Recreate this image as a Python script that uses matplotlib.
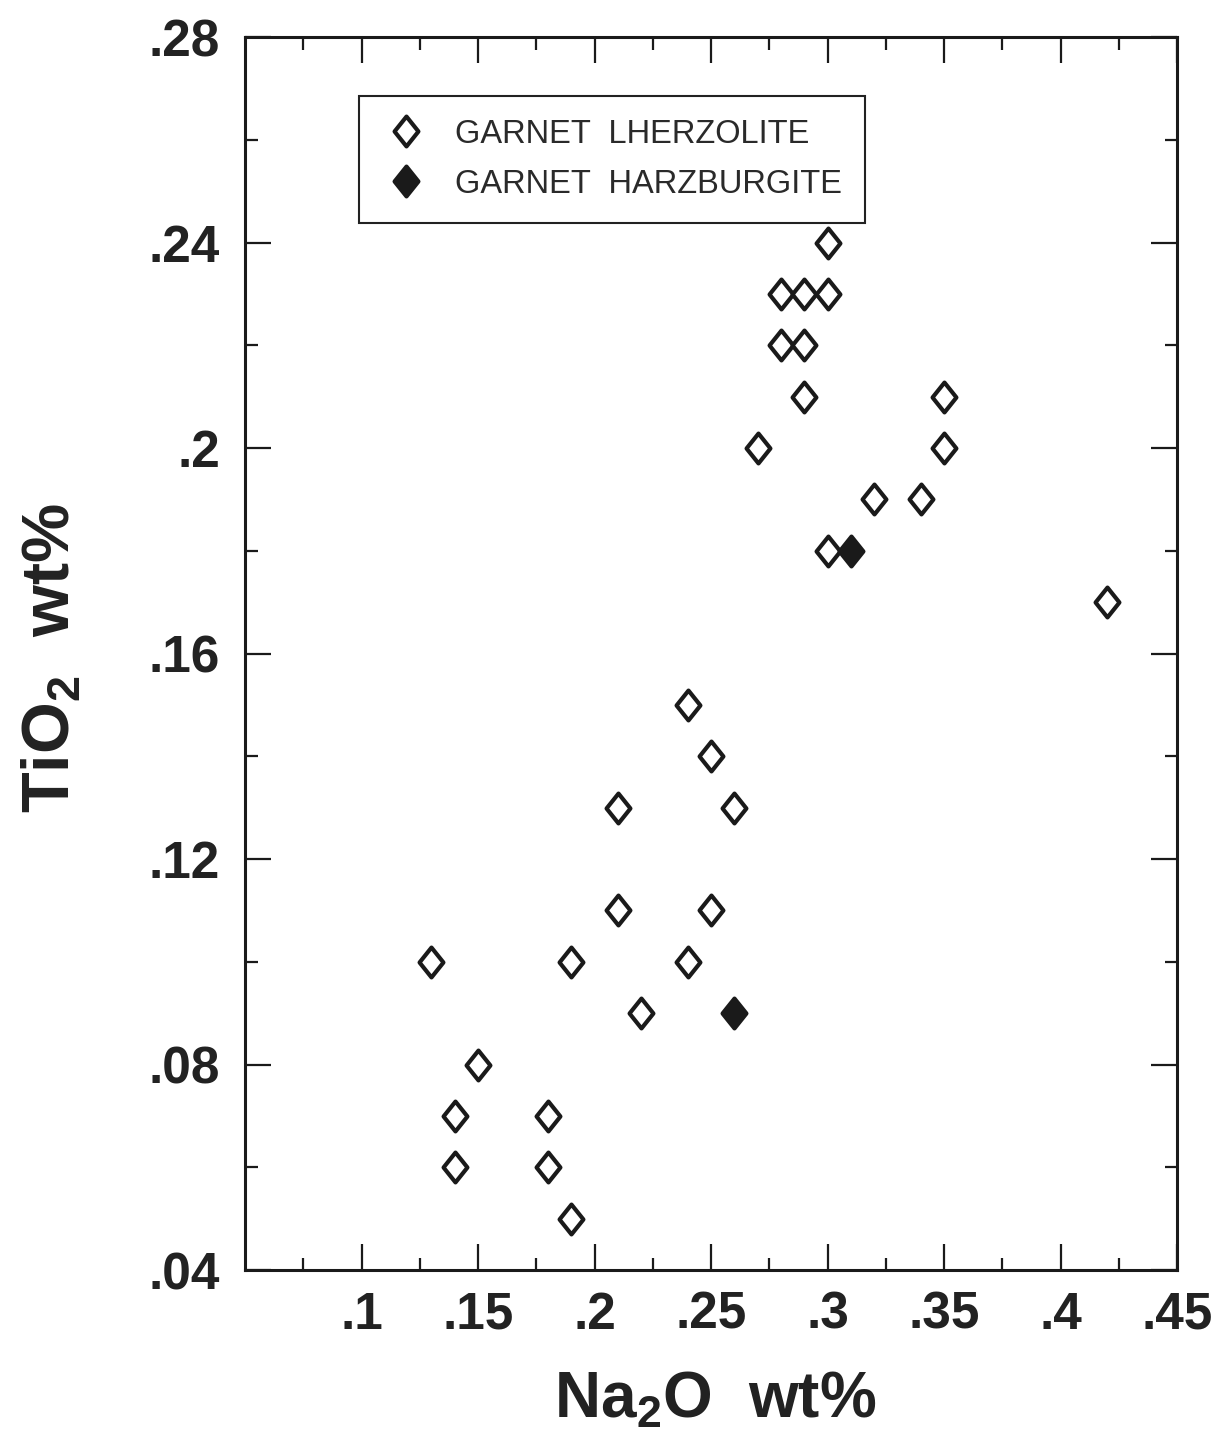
import matplotlib
matplotlib.use("Agg")
import matplotlib.pyplot as plt
from matplotlib.path import Path
import numpy as np

# ---- data ----
lherz_na2o = [0.13, 0.14, 0.14, 0.15, 0.18, 0.18, 0.19, 0.19, 0.21, 0.21, 0.22,
              0.24, 0.24, 0.25, 0.25, 0.26, 0.27, 0.28, 0.28, 0.29, 0.29, 0.29,
              0.30, 0.30, 0.30, 0.32, 0.34, 0.35, 0.35, 0.42]
lherz_tio2 = [0.10, 0.07, 0.06, 0.08, 0.07, 0.06, 0.05, 0.10, 0.13, 0.11, 0.09,
              0.15, 0.10, 0.14, 0.11, 0.13, 0.20, 0.23, 0.22, 0.23, 0.22, 0.21,
              0.24, 0.23, 0.18, 0.19, 0.19, 0.21, 0.20, 0.17]
harz_na2o = [0.26, 0.31]
harz_tio2 = [0.09, 0.18]

xtick_vals = [0.10, 0.15, 0.20, 0.25, 0.30, 0.35, 0.40, 0.45]
xtick_labels = [".1", ".15", ".2", ".25", ".3", ".35", ".4", ".45"]
ytick_vals = [0.04, 0.08, 0.12, 0.16, 0.20, 0.24, 0.28]
ytick_labels = [".04", ".08", ".12", ".16", ".2", ".24", ".28"]

plt.rcParams['font.family'] = ['Liberation Sans', 'DejaVu Sans']
plt.rcParams['mathtext.fontset'] = 'custom'
plt.rcParams['mathtext.rm'] = 'Liberation Sans'

fig = plt.figure(figsize=(12.22, 14.41), dpi=100)
ax = fig.add_axes([245/1222, 1-1270/1441, (1177-245)/1222, (1270-37)/1441])

diamond = Path([(0, 1), (0.8, 0), (0, -1), (-0.8, 0), (0, 1)],
               [Path.MOVETO, Path.LINETO, Path.LINETO, Path.LINETO, Path.CLOSEPOLY])

ink = '#1a1a1a'
ax.plot(lherz_na2o, lherz_tio2, linestyle='none', marker=diamond, markersize=21.5,
        markerfacecolor='white', markeredgecolor=ink, markeredgewidth=3.0,
        label='GARNET  LHERZOLITE')
ax.plot(harz_na2o, harz_tio2, linestyle='none', marker=diamond, markersize=21.5,
        markerfacecolor=ink, markeredgecolor=ink, markeredgewidth=3.0,
        label='GARNET  HARZBURGITE')

ax.set_xlim(0.05, 0.45)
ax.set_ylim(0.04, 0.28)
ax.set_xticks(xtick_vals)
ax.set_xticklabels(xtick_labels)
ax.set_xticks(np.arange(0.075, 0.45, 0.05), minor=True)
ax.set_yticks(ytick_vals)
ax.set_yticklabels(ytick_labels)
ax.set_yticks(np.arange(0.06, 0.28, 0.04), minor=True)

for s in ax.spines.values():
    s.set_linewidth(2.2)
    s.set_color(ink)

ax.tick_params(which='both', direction='in', top=True, right=True, color=ink)
ax.tick_params(which='major', length=19, width=1.6)
ax.tick_params(which='minor', length=9, width=1.6)
ax.tick_params(axis='x', which='major', pad=15, labelsize=37)
ax.tick_params(axis='y', which='major', pad=18, labelsize=37)
for lab in ax.get_xticklabels() + ax.get_yticklabels():
    lab.set_fontweight('bold')
    lab.set_color('#222222')

leg = ax.legend(loc='upper left', bbox_to_anchor=((359-245)/932, (1270-96)/1233),
                frameon=True, fancybox=False, edgecolor='#222222', framealpha=1,
                prop={'size': 23.5},
                handletextpad=0.8, borderpad=0.7, labelspacing=0.58,
                handlelength=1.45, borderaxespad=0)
leg.get_frame().set_linewidth(1.5)
for t in leg.get_texts():
    t.set_color('#2a2a2a')

fig.text(715/1222, 1-1400/1441, r'Na$_{\mathregular{2}}$O  wt%', ha='center', va='center',
         fontsize=46, fontweight='bold', color='#222222')
fig.text(52/1222, 1-658/1441, r'TiO$_{\mathregular{2}}$  wt%', ha='center', va='center',
         fontsize=48, fontweight='bold', color='#222222', rotation=90)

fig.savefig('out.png', dpi=100, facecolor='white')
